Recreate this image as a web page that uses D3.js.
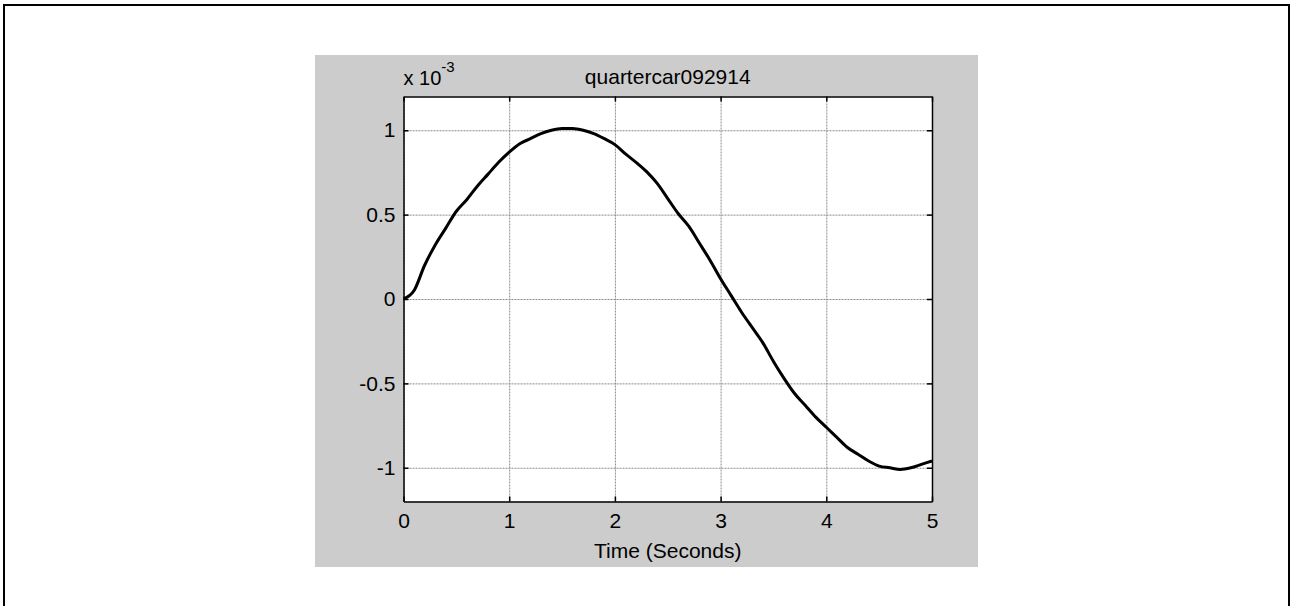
<!DOCTYPE html>
<html>
<head>
<meta charset="utf-8">
<script src="https://cdn.jsdelivr.net/npm/d3@7"></script>
<style>
  html, body { margin: 0; padding: 0; background: #fff; }
  svg text { font-family: "Liberation Sans", Arial, sans-serif; fill: #000; }
</style>
</head>
<body>
<svg id="chart" width="1290" height="606"></svg>
<script>
// quartercar092914 - response vs time (values in units of 1e-3)
var timeSec = [0.0, 0.1, 0.2, 0.3, 0.4, 0.5, 0.6, 0.7, 0.8, 0.9,
               1.0, 1.1, 1.2, 1.3, 1.4, 1.5, 1.6, 1.7, 1.8, 1.9,
               2.0, 2.1, 2.2, 2.3, 2.4, 2.5, 2.6, 2.7, 2.8, 2.9,
               3.0, 3.1, 3.2, 3.3, 3.4, 3.5, 3.6, 3.7, 3.8, 3.9,
               4.0, 4.1, 4.2, 4.3, 4.4, 4.5, 4.6, 4.7, 4.8, 4.9, 5.0];
var response = [0.00, 0.05, 0.20, 0.32, 0.42, 0.52, 0.59, 0.67, 0.74, 0.81,
                0.87, 0.92, 0.95, 0.98, 1.00, 1.01, 1.01, 1.00, 0.98, 0.95,
                0.915, 0.86, 0.81, 0.755, 0.685, 0.595, 0.505, 0.43, 0.33, 0.23,
                0.12, 0.02, -0.08, -0.17, -0.26, -0.37, -0.47, -0.56, -0.63, -0.70,
                -0.76, -0.82, -0.88, -0.92, -0.96, -0.99, -1.00, -1.01, -1.00, -0.98, -0.96];
var xTicks = [0, 1, 2, 3, 4, 5];
var yTicks = [-1, -0.5, 0, 0.5, 1];
var yTickLabels = ["-1", "-0.5", "0", "0.5", "1"];
var chartTitle = "quartercar092914";
var xLabel = "Time (Seconds)";

var svg = d3.select("#chart");

// outer frame
svg.append("rect")
  .attr("x", 4).attr("y", 5)
  .attr("width", 1285).attr("height", 640)
  .attr("fill", "none").attr("stroke", "#000").attr("stroke-width", 2);

// figure background
svg.append("rect")
  .attr("x", 315).attr("y", 55)
  .attr("width", 663).attr("height", 512)
  .attr("fill", "#cccccc");

var plot = { left: 403.5, top: 96.5, right: 932, bottom: 501.5 };
var w = plot.right - plot.left, h = plot.bottom - plot.top;

var x = d3.scaleLinear().domain([0, 5]).range([plot.left, plot.right]);
var y = d3.scaleLinear().domain([-1.2, 1.2]).range([plot.bottom, plot.top]);

svg.append("rect")
  .attr("x", plot.left).attr("y", plot.top)
  .attr("width", w).attr("height", h)
  .attr("fill", "#fff");

// grid
var gx = svg.append("g").attr("transform", "translate(0," + plot.bottom + ")")
  .call(d3.axisBottom(x).tickValues(xTicks).tickSize(-h).tickFormat(""));
var gy = svg.append("g").attr("transform", "translate(" + plot.left + ",0)")
  .call(d3.axisLeft(y).tickValues(yTicks).tickSize(-w).tickFormat(""));
[gx, gy].forEach(function (g) {
  g.select(".domain").remove();
  g.selectAll(".tick line")
    .attr("stroke", "#8a8a8a")
    .attr("stroke-dasharray", "2,1");
});

// axes with inward ticks on all four sides
var fontSize = 21;
var bottomAxis = svg.append("g").attr("transform", "translate(0," + plot.bottom + ")")
  .call(d3.axisBottom(x).tickValues(xTicks).tickSizeInner(-5).tickSizeOuter(0)
    .tickPadding(12).tickFormat(d3.format("d")));
var topAxis = svg.append("g").attr("transform", "translate(0," + plot.top + ")")
  .call(d3.axisTop(x).tickValues(xTicks).tickSizeInner(-5).tickSizeOuter(0).tickFormat(""));
var leftAxis = svg.append("g").attr("transform", "translate(" + plot.left + ",0)")
  .call(d3.axisLeft(y).tickValues(yTicks).tickSizeInner(-5).tickSizeOuter(0)
    .tickPadding(8).tickFormat(function (d, i) { return yTickLabels[i]; }));
var rightAxis = svg.append("g").attr("transform", "translate(" + plot.right + ",0)")
  .call(d3.axisRight(y).tickValues(yTicks).tickSizeInner(-5).tickSizeOuter(0).tickFormat(""));

[bottomAxis, topAxis, leftAxis, rightAxis].forEach(function (g) {
  g.select(".domain").attr("stroke", "#000").attr("stroke-width", 1.5);
  g.selectAll(".tick line").attr("stroke", "#000").attr("stroke-width", 1.5);
  g.selectAll(".tick text")
    .style("font-family", '"Liberation Sans", Arial, sans-serif')
    .style("font-size", fontSize + "px")
    .attr("fill", "#000");
});

// curve
var pts = timeSec.map(function (t, i) { return [t, response[i]]; });
var line = d3.line()
  .x(function (d) { return x(d[0]); })
  .y(function (d) { return y(d[1]); })
  .curve(d3.curveMonotoneX);

svg.append("path")
  .datum(pts)
  .attr("d", line)
  .attr("fill", "none")
  .attr("stroke", "#000")
  .attr("stroke-width", 3)
  .attr("stroke-linejoin", "round");

// title
svg.append("text")
  .attr("x", (plot.left + plot.right) / 2)
  .attr("y", 84)
  .attr("text-anchor", "middle")
  .style("font-size", fontSize + "px")
  .text(chartTitle);

// exponent label
var expo = svg.append("text")
  .attr("x", plot.left)
  .attr("y", 85)
  .style("font-size", "20px");
expo.append("tspan").text("x 10");
expo.append("tspan").attr("dy", -13).style("font-size", "15px").text("-3");

// x label
svg.append("text")
  .attr("x", (plot.left + plot.right) / 2)
  .attr("y", 558)
  .attr("text-anchor", "middle")
  .style("font-size", fontSize + "px")
  .text(xLabel);
</script>
</body>
</html>
